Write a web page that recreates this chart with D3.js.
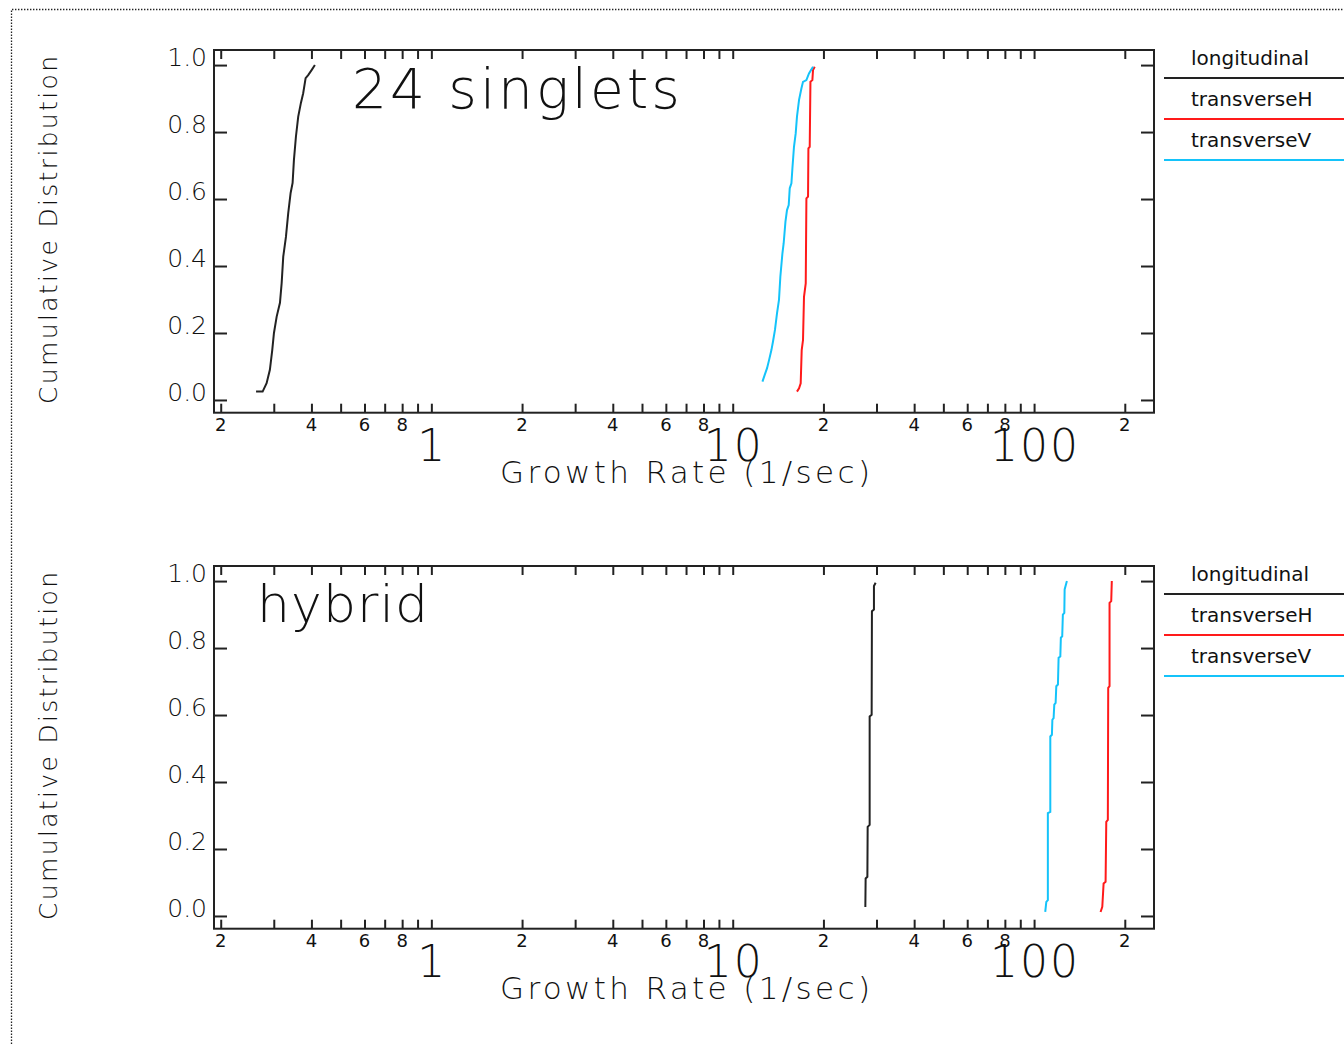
<!DOCTYPE html>
<html>
<head>
<meta charset="utf-8">
<script src="https://cdn.jsdelivr.net/npm/d3@7"></script>
<style>
  html, body { margin: 0; padding: 0; background: #fff; }
  svg { display: block; }
  text { font-family: "DejaVu Sans", sans-serif; fill: #111; }
</style>
</head>
<body>
<svg id="chart" width="1344" height="1044"></svg>
<script>
// ---- data ----
const seriesNames = ['longitudinal', 'transverseH', 'transverseV'];
const seriesColors = ['#222222', '#ff1a1a', '#14c3fa'];

const panelTitles = ['24  singlets', 'hybrid'];

// growth rate (1/sec) and cumulative fraction, per panel / series
const singletsLongRate = [0.262, 0.2755, 0.284, 0.2912, 0.2965, 0.3004, 0.3067, 0.3145, 0.3186, 0.3225, 0.3292, 0.335, 0.3412, 0.3464, 0.3499, 0.3553, 0.3616, 0.3691, 0.3756, 0.3826, 0.3902, 0.4005, 0.4107];
const singletsLongCdf = [0.025, 0.025, 0.05, 0.09, 0.149, 0.2, 0.249, 0.29, 0.349, 0.428, 0.487, 0.558, 0.618, 0.648, 0.716, 0.786, 0.846, 0.887, 0.916, 0.961, 0.97, 0.985, 1.0];

const singletsHRate = [16.34, 16.6, 16.81, 16.94, 17.11, 17.24, 17.47, 17.56, 17.78, 17.83, 18.01, 18.11, 18.38, 18.47, 18.71];
const singletsHCdf = [0.025, 0.035, 0.05, 0.149, 0.179, 0.308, 0.348, 0.602, 0.607, 0.751, 0.756, 0.95, 0.955, 0.985, 0.995];

const singletsVRate = [12.55, 12.77, 13.0, 13.2, 13.44, 13.6, 13.81, 14.03, 14.24, 14.39, 14.62, 14.76, 14.96, 15.14, 15.34, 15.46, 15.66, 15.78, 15.97, 16.18, 16.34, 16.6, 16.9, 17.11, 17.56, 17.91, 18.47];
const singletsVCdf = [0.055, 0.075, 0.095, 0.119, 0.149, 0.174, 0.209, 0.259, 0.299, 0.368, 0.438, 0.468, 0.532, 0.567, 0.582, 0.632, 0.647, 0.692, 0.756, 0.796, 0.846, 0.896, 0.93, 0.95, 0.955, 0.975, 0.995];

const hybridLongRate = [27.55, 27.61, 27.98, 28.04, 28.47, 28.47, 28.91, 28.97, 29.42, 29.42, 29.8];
const hybridLongCdf = [0.027, 0.112, 0.117, 0.266, 0.272, 0.596, 0.601, 0.91, 0.915, 0.985, 0.995];

const hybridHRate = [166.2, 168.4, 170.1, 172.7, 173.6, 175.7, 176.2, 178.0, 178.0, 180.3, 181.1];
const hybridHCdf = [0.012, 0.027, 0.097, 0.102, 0.281, 0.287, 0.681, 0.686, 0.935, 0.94, 1.0];

const hybridVRate = [108.9, 109.8, 111.1, 111.1, 113.2, 113.2, 114.6, 115.0, 116.1, 116.7, 117.9, 118.5, 120.0, 120.6, 122.2, 122.7, 124.0, 124.6, 126.0, 126.3, 128.5];
const hybridVCdf = [0.012, 0.042, 0.047, 0.307, 0.311, 0.536, 0.541, 0.586, 0.591, 0.631, 0.636, 0.686, 0.691, 0.771, 0.775, 0.831, 0.835, 0.9, 0.905, 0.975, 1.0];

// axes
const xTickValues = [0.2, 0.3, 0.4, 0.5, 0.6, 0.7, 0.8, 0.9, 1, 2, 3, 4, 5, 6, 7, 8, 9, 10, 20, 30, 40, 50, 60, 70, 80, 90, 100, 200];
const xMinorLabelValues = [0.2, 0.4, 0.6, 0.8, 2, 4, 6, 8, 20, 40, 60, 80, 200];
const xMinorLabels = ['2', '4', '6', '8', '2', '4', '6', '8', '2', '4', '6', '8', '2'];
const xDecadeValues = [1, 10, 100];
const xDecadeLabels = ['1', '10', '100'];
const yTickValues = [0, 0.2, 0.4, 0.6, 0.8, 1.0];

const panels = [
    {
        title: panelTitles[0],
        series: [
            { rate: singletsLongRate, cdf: singletsLongCdf },
            { rate: singletsHRate, cdf: singletsHCdf },
            { rate: singletsVRate, cdf: singletsVCdf }
        ]
    },
    {
        title: panelTitles[1],
        series: [
            { rate: hybridLongRate, cdf: hybridLongCdf },
            { rate: hybridHRate, cdf: hybridHCdf },
            { rate: hybridVRate, cdf: hybridVCdf }
        ]
    }
];

// ---- layout ----
const svg = d3.select('#chart');
const left = 214, right = 1154;
const plotH = 362.7;
const panelTops = [50, 566];

// dotted page border
svg.append('path')
    .attr('d', 'M11.5,1044 L11.5,9.5 L1344,9.5')
    .attr('fill', 'none')
    .attr('stroke', '#222')
    .attr('stroke-width', 1.3)
    .attr('stroke-dasharray', '1.4,1.6');

const x = d3.scaleLog().domain([0.19, 250]).range([left, right]);

panels.forEach(function (p, i) {
    let top = panelTops[i];
    let bottom = top + plotH;
    let y = d3.scaleLinear().domain([-0.038, 1.045]).range([bottom, top]);
    let g = svg.append('g');

    // curves first, frame on top
    let line = d3.line()
        .x(function (d) { return x(d[0]); })
        .y(function (d) { return y(d[1]); });
    p.series.forEach(function (s, k) {
        let pts = d3.zip(s.rate, s.cdf);
        g.append('path')
            .attr('d', line(pts))
            .attr('fill', 'none')
            .attr('stroke', seriesColors[k])
            .attr('stroke-width', 2);
    });

    // tick marks via d3 axes
    let axes = [
        { ax: d3.axisBottom(x).tickValues(xTickValues).tickSize(-9), t: `translate(0,${bottom})` },
        { ax: d3.axisTop(x).tickValues(xTickValues).tickSize(-9), t: `translate(0,${top})` },
        { ax: d3.axisLeft(y).tickValues(yTickValues).tickSize(-13), t: `translate(${left},0)` },
        { ax: d3.axisRight(y).tickValues(yTickValues).tickSize(-13), t: `translate(${right},0)` }
    ];
    axes.forEach(function (a) {
        let ag = g.append('g')
            .attr('transform', a.t)
            .call(a.ax.tickSizeOuter(0).tickFormat(''));
        ag.select('.domain').remove();
        ag.selectAll('line').attr('stroke', '#222').attr('stroke-width', 2);
        ag.selectAll('text').remove();
    });

    g.append('rect')
        .attr('x', left).attr('y', top)
        .attr('width', right - left).attr('height', bottom - top)
        .attr('fill', 'none')
        .attr('stroke', '#222')
        .attr('stroke-width', 2);

    // y tick labels
    g.selectAll('.ylab')
        .data(yTickValues)
        .join('text')
        .attr('class', 'ylab')
        .attr('x', left - 7)
        .attr('y', function (d) { return y(d) + 1; })
        .attr('text-anchor', 'end')
        .attr('font-size', 25)
        .attr('font-weight', 300)
        .text(d3.format('.1f'));

    // small x labels
    g.selectAll('.xmin')
        .data(xMinorLabelValues)
        .join('text')
        .attr('class', 'xmin')
        .attr('x', function (d) { return x(d); })
        .attr('y', bottom + 18)
        .attr('text-anchor', 'middle')
        .attr('font-size', 18)
        .text(function (d, j) { return xMinorLabels[j]; });

    // decade labels
    g.selectAll('.xdec')
        .data(xDecadeValues)
        .join('text')
        .attr('class', 'xdec')
        .attr('x', function (d) { return x(d) + 1; })
        .attr('y', bottom + 48)
        .attr('text-anchor', 'middle')
        .attr('font-size', 44)
        .attr('font-weight', 200)
        .attr('letter-spacing', 2)
        .text(function (d, j) { return xDecadeLabels[j]; });

    // x title
    g.append('text')
        .attr('x', 500)
        .attr('y', bottom + 70)
        .attr('font-size', 31)
        .attr('font-weight', 200)
        .attr('textLength', 370)
        .attr('lengthAdjust', 'spacing')
        .text('Growth  Rate  (1/sec)');

    // y title
    g.append('text')
        .attr('transform', `translate(57,${top + 180}) rotate(-90)`)
        .attr('text-anchor', 'middle')
        .attr('font-size', 25)
        .attr('font-weight', 200)
        .attr('textLength', 348)
        .attr('lengthAdjust', 'spacing')
        .text('Cumulative  Distribution');

    // panel title
    if (i == 0) {
        g.append('text')
            .attr('x', 352).attr('y', top + 58)
            .attr('font-size', 55)
            .attr('font-weight', 200)
            .attr('textLength', 328)
            .attr('lengthAdjust', 'spacing')
            .text(p.title);
    } else {
        g.append('text')
            .attr('x', 257).attr('y', top + 56)
            .attr('font-size', 52)
            .attr('font-weight', 200)
            .attr('textLength', 171)
            .attr('lengthAdjust', 'spacing')
            .text(p.title);
    }

    // legend
    seriesNames.forEach(function (name, k) {
        let ly = top + 28 + k * 41;
        g.append('line')
            .attr('x1', 1164).attr('x2', 1344)
            .attr('y1', ly).attr('y2', ly)
            .attr('stroke', seriesColors[k])
            .attr('stroke-width', 2);
        g.append('text')
            .attr('x', 1191).attr('y', ly - 13)
            .attr('font-size', 20)
            .text(name);
    });
});
</script>
</body>
</html>
